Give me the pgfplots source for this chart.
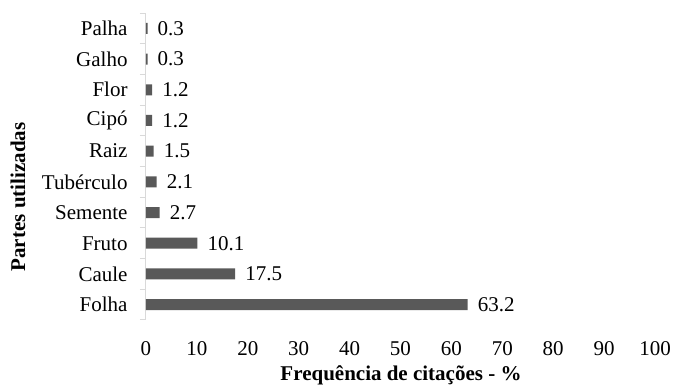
\documentclass[border=0pt]{standalone}
\usepackage{fontspec}
\setmainfont{Liberation Serif}
\usepackage{pgfplots}
\pgfplotsset{compat=1.18}
\definecolor{barcol}{HTML}{595959}
\definecolor{axcol}{HTML}{D9D9D9}
\begin{document}
\fontsize{21pt}{24pt}\selectfont
\begin{tikzpicture}
\path[use as bounding box] (-146pt,-65pt) rectangle (532pt,320pt);
\begin{axis}[
  at={(0,0)}, anchor=south west,
  scale only axis,
  width=509pt, height=307pt,
  xmin=0, xmax=100,
  ymin=-0.5, ymax=9.5,
  xtick={0,10,...,100},
  ytick={0,...,9},
  yticklabels={Folha,Caule,Fruto,Semente,Tubérculo,Raiz,Cipó,Flor,Galho,Palha},
  minor ytick={-0.5,0.5,...,9.5},
  axis lines*=left,
  x axis line style={draw=none},
  y axis line style={draw=axcol, line width=1pt},
  xtick style={draw=none},
  ytick style={draw=none},
  minor tick length=6pt,
  tick align=outside,
  minor y tick style={draw=axcol, line width=1pt},
  /pgf/number format/assume math mode=true,
  /pgf/number format/fixed,
  /pgf/number format/precision=1,
  xticklabel style={anchor=center, yshift=-24pt},
  yticklabel style={anchor=east, inner sep=0pt, xshift=-14pt},
  xlabel={\textbf{Frequência de citações - \%}},
  ylabel={\textbf{Partes utilizadas}},
  xlabel style={at={(axis description cs:0.501,-0.179)}, anchor=center},
  ylabel style={at={(axis description cs:-0.2515,0.4007)}, anchor=center, rotate=0},
  xbar, bar width=11pt,
  nodes near coords,
  point meta=x,
  nodes near coords style={anchor=west, inner sep=0pt, xshift=10pt,
     /pgf/number format/fixed, /pgf/number format/precision=1, /pgf/number format/fixed zerofill},
]
\addplot[fill=barcol, draw=none] coordinates {
(63.2,0) (17.5,1) (10.1,2) (2.7,3) (2.1,4) (1.5,5) (1.2,6) (1.2,7) (0.3,8) (0.3,9)
};
\end{axis}
\end{tikzpicture}
\end{document}
